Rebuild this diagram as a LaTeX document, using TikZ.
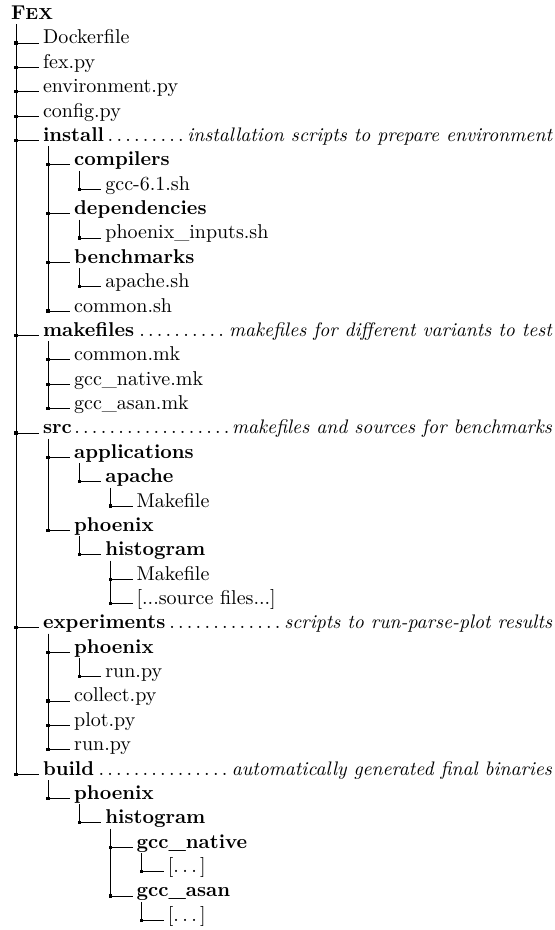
\documentclass[tikz,border=0pt]{standalone}
\usetikzlibrary{calc}
\tikzset{
  x=0.5pt, y=-0.5pt,
  item/.style={anchor=base west, inner sep=0pt, outer sep=0pt, font=\fontsize{10}{12}\selectfont},
  diritem/.style={item, font=\fontsize{10}{12}\selectfont\bfseries},
  branchline/.style={line width=0.4pt, draw=black},
  joint/.style={fill=black},
}
\newcommand{\descrow}[2]{\makebox[254.5pt][l]{\textbf{#1}\dotfill{\fontsize{9.8}{12}\selectfont\itshape #2}}}
\newcommand{\spaceddots}{[.\kern0.17em.\kern0.17em.\kern0.17em]}
\newcommand{\branch}[2]{%
  \coordinate (tmpa) at ($(#1.base west)+(5,5)$);
  \coordinate (tmpb) at ($(#2.base west)+(-4,-1)$);
  \draw[branchline] (tmpa) |- (tmpb);
  \fill[joint] (tmpa |- tmpb) +(-1.6,-1.6) rectangle +(1.6,1.6);
}
\begin{document}
\begin{tikzpicture}
\useasboundingbox (0,0) rectangle (555,930);
\node[item] (root) at (11,19.5) {\textbf{F\fontsize{8}{10}\selectfont EX}};
\node[item] (dockerfile) at (43,44) {Dockerfile};
\node[item] (fexpy) at (43,68.37) {fex.py};
\node[item] (envpy) at (43,92.74) {environment.py};
\node[item] (configpy) at (43,117.11) {config.py};
\node[item] (install) at (43,141.48) {\descrow{install}{installation scripts to prepare environment}};
\node[diritem] (compilers) at (74.2,165.85) {compilers};
\node[item] (gcc) at (105.4,190.22) {gcc-6.1.sh};
\node[diritem] (deps) at (74.2,214.59) {dependencies};
\node[item] (phxin) at (105.4,238.96) {phoenix\_inputs.sh};
\node[diritem] (bench) at (74.2,263.33) {benchmarks};
\node[item] (apachesh) at (105.4,287.7) {apache.sh};
\node[item] (commonsh) at (74.2,312.07) {common.sh};
\node[item] (makefiles) at (43,336.44) {\descrow{makefiles}{makefiles for different variants to test}};
\node[item] (commonmk) at (74.2,360.81) {common.mk};
\node[item] (nativemk) at (74.2,385.18) {gcc\_native.mk};
\node[item] (asanmk) at (74.2,409.55) {gcc\_asan.mk};
\node[item] (src) at (43,433.92) {\descrow{src}{makefiles and sources for benchmarks}};
\node[diritem] (apps) at (74.2,458.29) {applications};
\node[diritem] (apachedir) at (105.4,482.66) {apache};
\node[item] (apachemk) at (136.6,507.03) {Makefile};
\node[diritem] (srcphx) at (74.2,531.4) {phoenix};
\node[diritem] (srchist) at (105.4,555.77) {histogram};
\node[item] (histmk) at (136.6,580.14) {Makefile};
\node[item] (histsrc) at (136.6,604.51) {[...source files...]};
\node[item] (exps) at (43,628.88) {\descrow{experiments}{scripts to run-parse-plot results}};
\node[diritem] (expphx) at (74.2,653.25) {phoenix};
\node[item] (expphxrun) at (105.4,677.62) {run.py};
\node[item] (collect) at (74.2,701.99) {collect.py};
\node[item] (plot) at (74.2,726.36) {plot.py};
\node[item] (run) at (74.2,750.73) {run.py};
\node[item] (build) at (43,775.1) {\descrow{build}{automatically generated final binaries}};
\node[diritem] (bphx) at (74.2,799.47) {phoenix};
\node[diritem] (bhist) at (105.4,823.84) {histogram};
\node[diritem] (bnative) at (136.6,848.21) {gcc\_native};
\node[item] (bnativedots) at (167.8,872.58) {\spaceddots};
\node[diritem] (basan) at (136.6,896.95) {gcc\_asan};
\node[item] (basandots) at (167.8,921.32) {\spaceddots};
\foreach \p/\c in {root/dockerfile, root/fexpy, root/envpy, root/configpy, root/install,
  root/makefiles, root/src, root/exps, root/build,
  install/compilers, install/deps, install/bench, install/commonsh,
  compilers/gcc, deps/phxin, bench/apachesh,
  makefiles/commonmk, makefiles/nativemk, makefiles/asanmk,
  src/apps, src/srcphx, apps/apachedir, apachedir/apachemk, srcphx/srchist,
  srchist/histmk, srchist/histsrc,
  exps/expphx, exps/collect, exps/plot, exps/run, expphx/expphxrun,
  build/bphx, bphx/bhist, bhist/bnative, bhist/basan,
  bnative/bnativedots, basan/basandots} {\branch{\p}{\c}}
\end{tikzpicture}
\end{document}
